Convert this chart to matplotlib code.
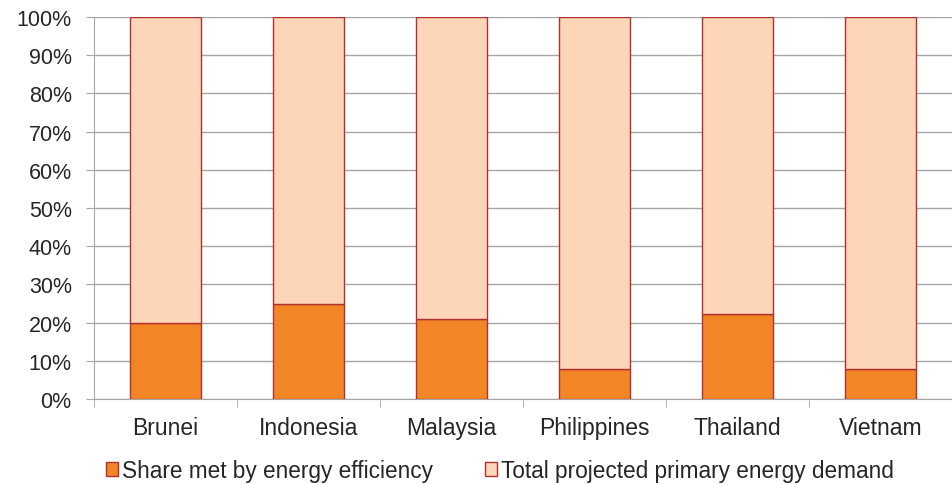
import matplotlib.pyplot as plt
from matplotlib.ticker import FixedLocator, PercentFormatter

plt.rcParams['font.family'] = ['Liberation Sans', 'DejaVu Sans']
plt.rcParams['text.color'] = '#262626'

countries = ['Brunei', 'Indonesia', 'Malaysia', 'Philippines', 'Thailand', 'Vietnam']
efficiency_share = [20, 25, 21, 8, 22.3, 8]
total_demand = [100 - v for v in efficiency_share]

fig = plt.figure(figsize=(9.52, 4.85), dpi=100)
ax = fig.add_axes([0.0987, 0.175, 0.9013, 0.788])

x = range(len(countries))
ax.bar(x, efficiency_share, width=0.5, color='#f28627', edgecolor='#b03030',
       linewidth=1.0, label='Share met by energy efficiency', zorder=3)
ax.bar(x, total_demand, width=0.5, bottom=efficiency_share, color='#fdd5b9',
       edgecolor='#b03030', linewidth=1.0,
       label='Total projected primary energy demand', zorder=3)

ax.set_xlim(-0.5, len(countries) - 0.5)
ax.set_ylim(0, 100)
ax.set_yticks(range(0, 101, 10))
ax.yaxis.set_major_formatter(PercentFormatter(decimals=0))
ax.yaxis.grid(True, color='#a6a6a6', linewidth=1.0, zorder=0)

ax.set_xticks(list(x))
ax.set_xticklabels(countries)
ax.xaxis.set_minor_locator(FixedLocator([i - 0.5 for i in range(len(countries) + 1)]))
ax.tick_params(axis='x', which='major', length=0, pad=12, labelsize=16.5,
               labelcolor='#262626')
ax.tick_params(axis='x', which='minor', length=6, color='#a6a6a6')
ax.tick_params(axis='y', length=6, color='#a6a6a6', labelsize=15.5, pad=10,
               labelcolor='#262626')

for side in ['top', 'right']:
    ax.spines[side].set_visible(False)
ax.spines['left'].set_color('#a6a6a6')
ax.spines['bottom'].set_color('#a6a6a6')

ax.legend(loc='lower center', bbox_to_anchor=(0.473, -0.27), ncol=2, frameon=False,
          fontsize=16.3, handlelength=0.55, handleheight=0.55, handletextpad=0.15,
          columnspacing=2.3)

fig.savefig('out.png', dpi=100)
